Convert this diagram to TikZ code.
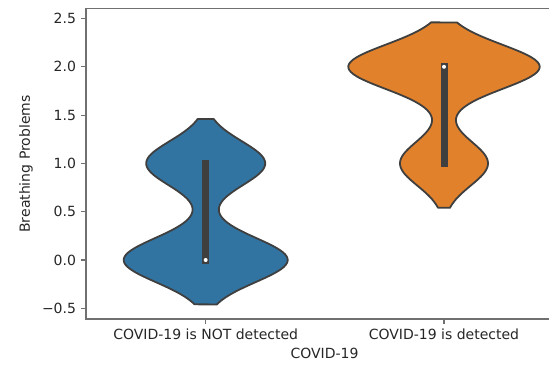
\documentclass[tikz,border=0pt]{standalone}
\usepackage{fontspec}
\setmainfont{DejaVu Sans}
\usetikzlibrary{positioning}
\definecolor{vblue}{HTML}{3274A1}
\definecolor{vorange}{HTML}{E1812C}
\definecolor{vgray}{HTML}{3F3F3F}
\definecolor{spinegray}{HTML}{707070}
\definecolor{txtgray}{HTML}{262626}
\tikzset{violin/.style={draw=vgray, line width=1.8pt, line join=round},
    quart/.style={draw=vgray, line width=7pt, line cap=rect},
    spine/.style={draw=spinegray, line width=1.2pt},
    lbl/.style={text=txtgray, inner sep=0pt, font=\fontsize{14}{17}\selectfont},
    declare function={kd(\v,\m,\a)=\a*exp(-((\v-\m)^2)/0.1058);
        wblue(\v)=kd(\v,0,82)+kd(\v,1,59.5);
        worange(\v)=kd(\v,1,44)+kd(\v,2,95.7);}}
\newcommand{\yv}[1]{105+96.6*(#1)}

\begin{document}
\begin{tikzpicture}[x=1pt, y=1pt]
        \useasboundingbox (0,0) rectangle (549,365);

        % violins
        \draw[violin, fill=vblue] plot[domain=-0.46:1.46, samples=90, smooth] ({205.7+wblue(\x)}, {\yv{\x}})
            -- plot[domain=1.46:-0.46, samples=90, smooth] ({205.7-wblue(\x)}, {\yv{\x}}) -- cycle;
        \draw[violin, fill=vorange] plot[domain=0.54:2.46, samples=90, smooth] ({444+worange(\x)}, {\yv{\x}})
            -- plot[domain=2.46:0.54, samples=90, smooth] ({444-worange(\x)}, {\yv{\x}}) -- cycle;

        \coordinate (q1lo) at (205.7, {\yv{0}});
        \coordinate (q1hi) at (205.7, {\yv{1}});
        \coordinate (q2lo) at (444, {\yv{1}});
        \coordinate (q2hi) at (444, {\yv{2}});
        \draw[quart] (q1lo) -- (q1hi);
        \draw[quart] (q2lo) -- (q2hi);
        \fill[white] (q1lo) circle (2pt);
        \fill[white] (q2hi) circle (2pt);

        % axes
        \coordinate (tl) at (86,356.5);
        \coordinate (bl) at (86,46);
        \draw[spine] (549,356.5) -- (tl) -- (bl) -- (549,46);

        \foreach \v/\t in {-0.5/−0.5, 0/0.0, 0.5/0.5, 1/1.0, 1.5/1.5, 2/2.0, 2.5/2.5} {
            \draw[spine] (86,{\yv{\v}}) -- (81,{\yv{\v}});
            \node[lbl, anchor=east] (ytick\v) at (76.2,{\yv{\v}}) {\t};
        }

        \foreach \cx/\t [count=\i] in {205.7/COVID-19 is NOT detected, 444/COVID-19 is detected} {
            \draw[spine] (\cx,46) -- (\cx,41);
            \node[lbl, anchor=north] (xtick\i) at (\cx,36.2) {\t};
        }

        \node[lbl] (xlab) at (324.5,11.7) {COVID-19};
        \node[lbl, rotate=90] (ylab) at (26,201) {Breathing Problems};
    \end{tikzpicture}
\end{document}
